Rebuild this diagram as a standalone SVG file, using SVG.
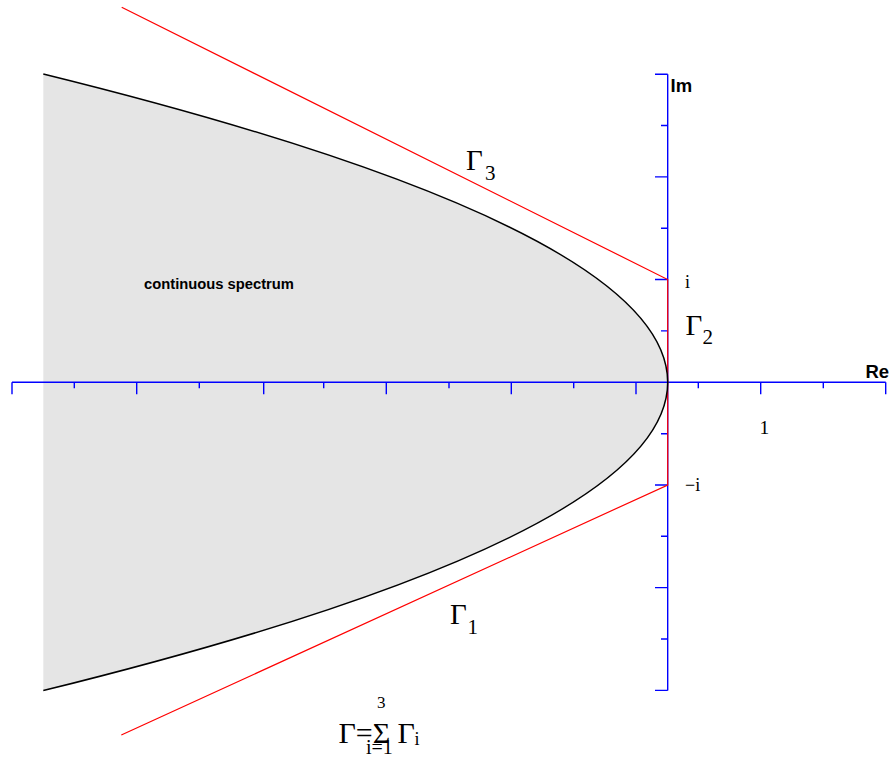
<svg xmlns="http://www.w3.org/2000/svg" width="889" height="758" viewBox="0 0 889 758">
<style>
.ax{stroke:#0000ff;stroke-width:1.4;fill:none}
.rd{stroke:#ff0000;stroke-width:1.2;fill:none}
.cv{stroke:#000;stroke-width:1.5;fill:none}
.lb{font-family:"Liberation Sans",Arial,sans-serif;font-weight:bold;fill:#000}
.sf{font-family:"Liberation Serif","Times New Roman",serif;fill:#000}
</style>
<rect width="889" height="758" fill="#fff"/>
<g id="spectrum">
<path d="M43.3,74 Q1292.1,382.3 43.3,690.6 Z" fill="#e5e5e5" stroke="none"/>
<text class="lb" x="144" y="289.3" font-size="14.5" textLength="150" lengthAdjust="spacingAndGlyphs">continuous spectrum</text>
</g>
<g id="axes">
<path class="ax" d="M12,382.3H885.7M667.7,74.2V690.4"/>
<path class="ax" d="M12,382.3v12M136.7,382.3v12M263.7,382.3v12M386.3,382.3v12M511.3,382.3v12M636,382.3v12M760.7,382.3v12M885.7,382.3v12M74.3,382.3v6M199.3,382.3v6M323.7,382.3v6M449,382.3v6M573.7,382.3v6M698.3,382.3v6M823.3,382.3v6"/>
<path class="ax" d="M655,74.2h12.7M655,176.9h12.7M655,279.5h12.7M655,485h12.7M655,587.6h12.7M655,690.4h12.7M661,125.5h6.7M661,228.2h6.7M661,330.9h6.7M661,433.7h6.7M661,536.3h6.7M661,639h6.7"/>
<text class="lb" x="670.5" y="92.3" font-size="18.5">Im</text>
<text class="lb" x="865.5" y="377.7" font-size="18.5">Re</text>
<text class="sf" x="685" y="288.3" font-size="18">i</text>
<text class="sf" x="685" y="490.5" font-size="18">−i</text>
<text class="sf" x="759.5" y="434.3" font-size="19.5">1</text>
</g>
<g id="contour">
<path class="rd" d="M121.7,7.3L667.7,279.5V485L121.3,735"/>
<text class="sf" x="466" y="170" font-size="29">Γ<tspan x="485" y="180" font-size="21">3</tspan></text>
<text class="sf" x="685.5" y="335" font-size="29">Γ<tspan x="702.5" y="344.3" font-size="21">2</tspan></text>
<text class="sf" x="450" y="624.3" font-size="29">Γ<tspan x="467.5" y="634.3" font-size="21">1</tspan></text>
</g>
<g id="boundary">
<path class="cv" d="M43.3,74 Q1292.1,382.3 43.3,690.6"/>
</g>
<g id="formula">
<text class="sf" x="338.5" y="743.3" font-size="30">Γ=Σ</text>
<text class="sf" x="377" y="708.3" font-size="17">3</text>
<text class="sf" x="366" y="753.5" font-size="20">i=1</text>
<text class="sf" x="397.5" y="743.3" font-size="30">Γ</text>
<text class="sf" x="414.5" y="745" font-size="18">i</text>
</g>
</svg>
